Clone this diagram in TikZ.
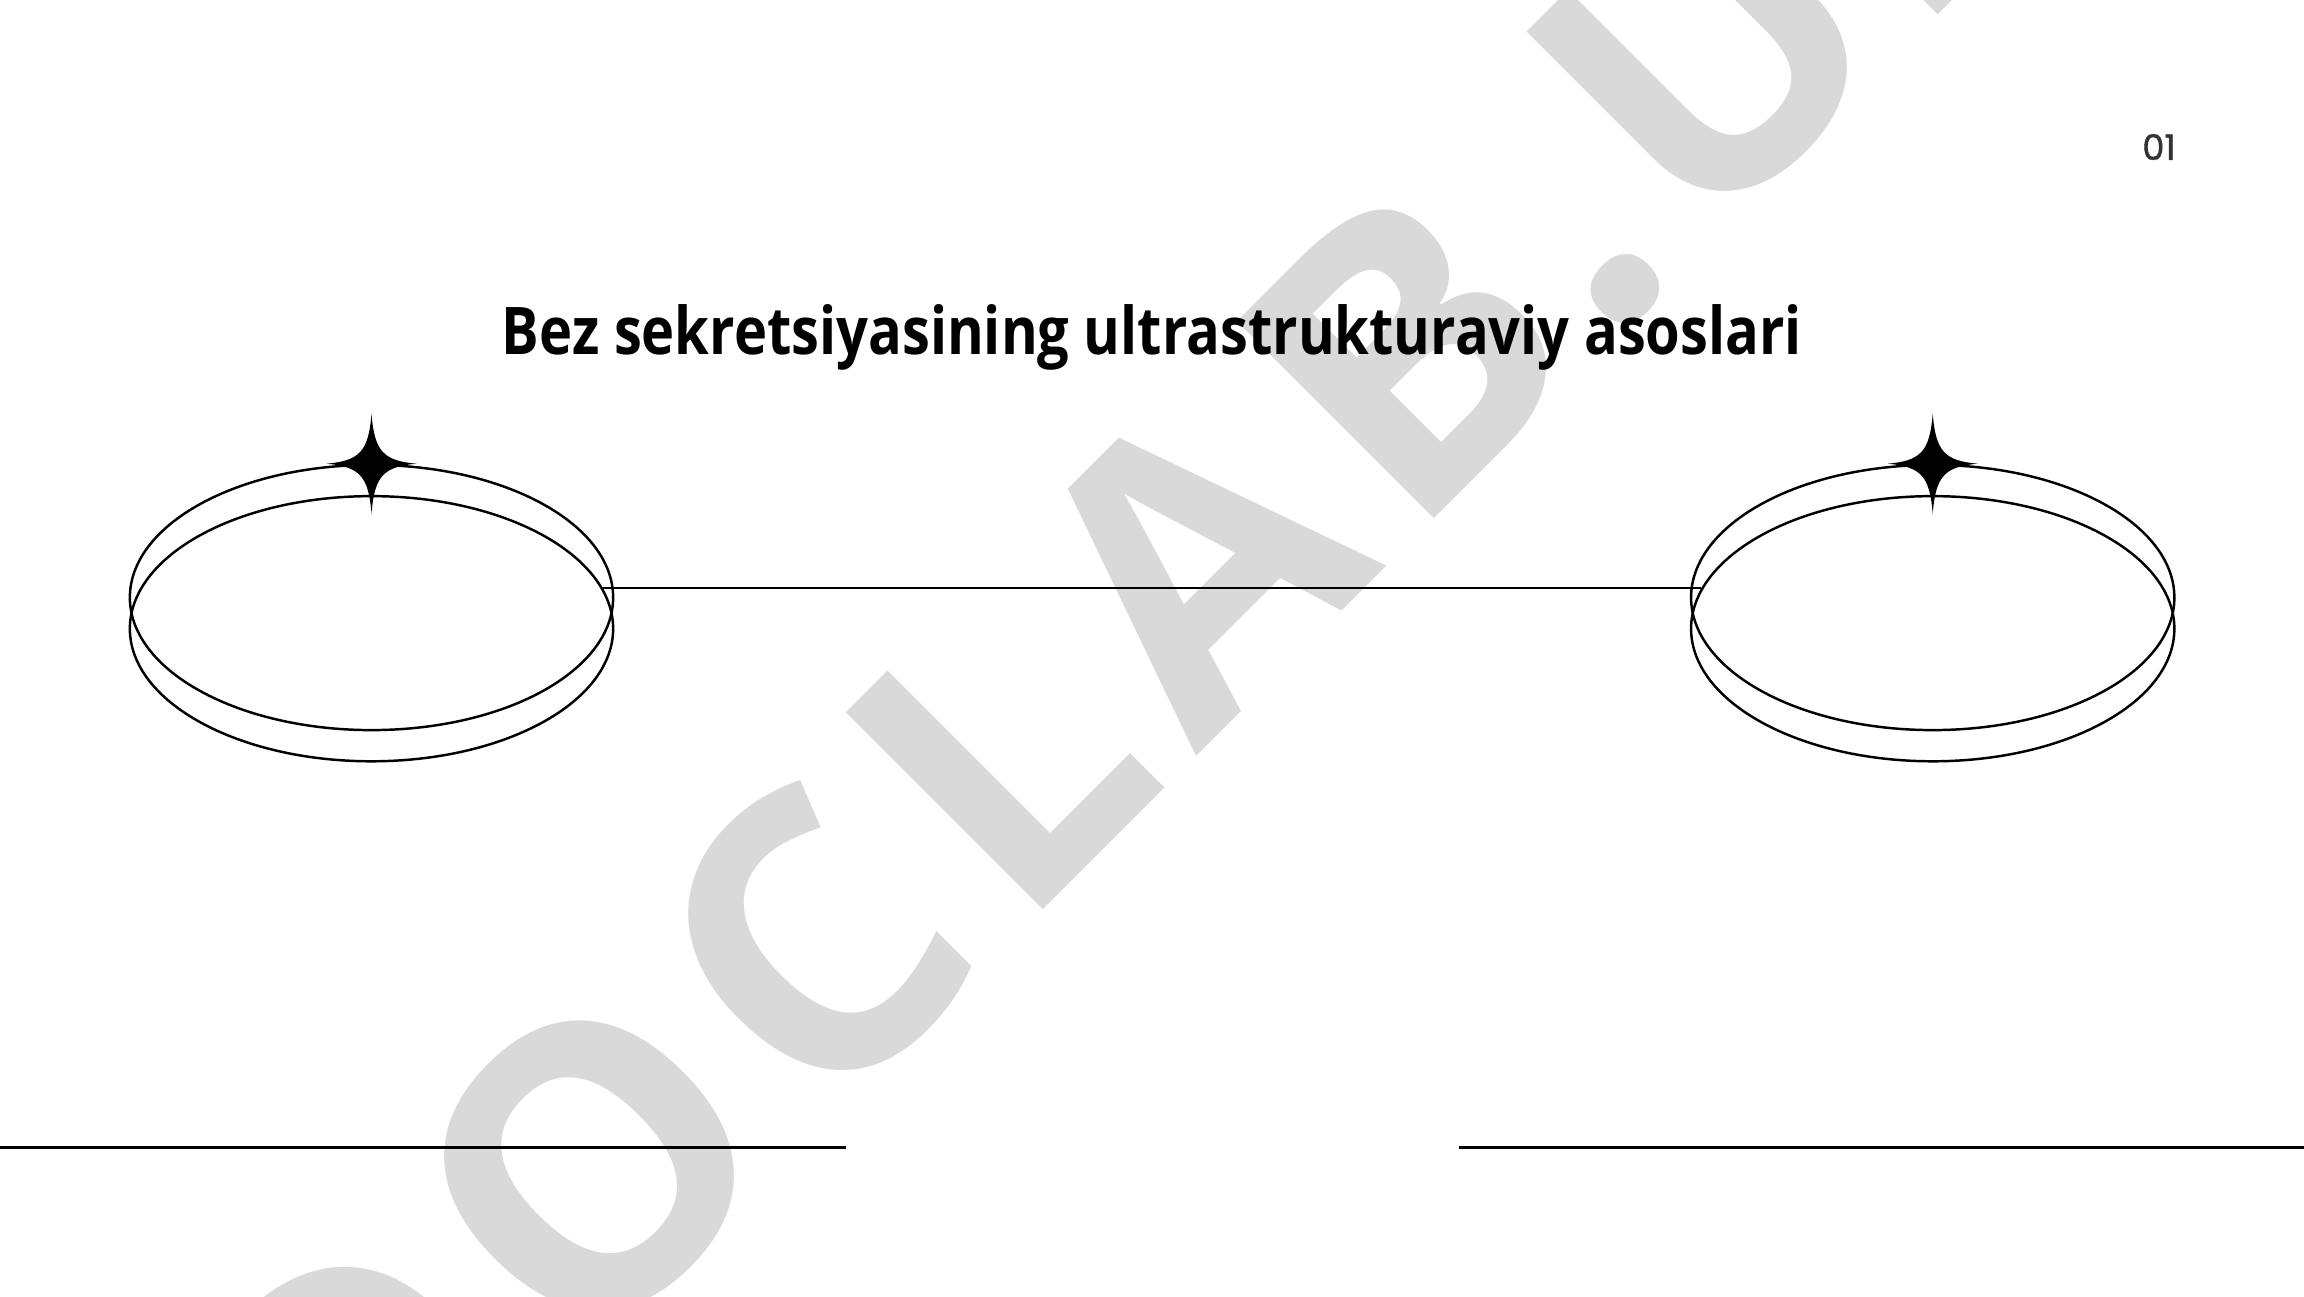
\documentclass[tikz,border=0pt]{standalone}
\usepackage{fontspec}
\setmainfont{Open Sans}
\newfontfamily\titlefont[FakeStretch=0.852]{Open Sans}
\newfontfamily\markfont[LetterSpace=8]{Open Sans}
\newfontfamily\numfont[FakeBold=1]{Poppins}
\usetikzlibrary{shapes.geometric}
\definecolor{wmgray}{HTML}{D9D9D9}
\definecolor{numgray}{HTML}{333333}

\begin{document}
\begin{tikzpicture}
  [x=0.01cm,y=-0.01cm,line width=0.7pt,
   ring/.style={ellipse,draw,inner sep=0pt,minimum width=4.83cm,minimum height=2.65cm},
   sparkle/.pic={\fill (0,-50) .. controls (3,-12) and (12,-3) .. (45,0) .. controls (12,3) and (3,12) .. (0,50) .. controls (-3,12) and (-12,3) .. (-45,0) .. controls (-12,-3) and (-3,-12) .. cycle;}]
  \useasboundingbox (0,0) rectangle (2304,1296);
  \clip (0,0) rectangle (2304,1296);
  \node[rotate=45,anchor=base west,inner sep=0pt,text=wmgray,font=\markfont\bfseries\fontsize{111}{111}\selectfont] (mark) at (352,1601) {DOCLAB.UZ};
  \node[anchor=base,font=\titlefont\bfseries\fontsize{18.7}{22}\selectfont] (title) at (1152,354) {Bez sekretsiyasining ultrastrukturaviy asoslari};
  \node[text=numgray,font=\numfont\fontsize{10}{12}\selectfont] (page) at (2159,147) {01};

  \foreach \side/\x in {left/371.5,right/1932.7} {
    \node[ring] (\side-top) at (\x,597.5) {};
    \node[ring] (\side-low) at (\x,628.7) {};
    \pic at (\side-top.north) {sparkle};
  }
  \draw (left-low.10) -- (right-low.170);

  \draw (0,1147.6) -- (846,1147.6);
  \draw (1459,1147.6) -- (2304,1147.6);
\end{tikzpicture}
\end{document}
